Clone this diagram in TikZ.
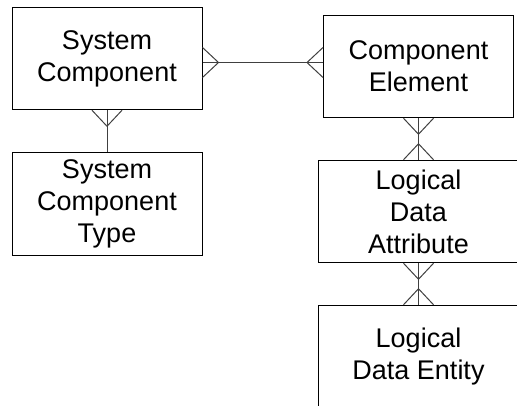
\documentclass[tikz,border=0pt]{standalone}
\usepackage{fontspec}
\setmainfont{Liberation Sans}
\usetikzlibrary{positioning, calc}

\begin{document}
\begin{tikzpicture}[
  x=1pt, y=1pt,
  node distance=41.5pt,
  box/.style = {rectangle, draw, line width=1pt, minimum width=190pt, minimum height=102.5pt, inner sep=0pt,
    font=\fontsize{27}{32}\selectfont, align=center},
  wide/.style = {minimum width=201pt},
  conn/.style = {draw=black!75, line width=1pt},
  crowfoot/.pic = {\draw[conn] (0,-15) -- (16,0) -- (0,15);}
  ]
\clip (0,0) rectangle (517,405);

\node[box] (syscomp) at (107,346.5) {System\\Component};
\node[box, below=42pt of syscomp] (systype) {System\\Component\\Type};
\node[box] (compelem) at (418.5,338.5) {Component\\Element};
\node[box, wide, below=of compelem] (attr) {Logical\\Data\\Attribute};
\node[box, wide, below=of attr] (entity) {Logical\\Data Entity};

\coordinate (mid) at ($(syscomp.east)!0.5!(compelem.west)$);
\draw[conn] (syscomp.east |- mid) -- (compelem.west |- mid);
\draw[conn] (syscomp) -- (systype);
\draw[conn] (compelem) -- (attr);
\draw[conn] (attr) -- (entity);

% crow's feet
\pic at (syscomp.east |- mid) {crowfoot};
\pic[rotate=180] at (compelem.west |- mid) {crowfoot};
\pic[rotate=-90] at (syscomp.south) {crowfoot};
\pic[rotate=-90] at (compelem.south) {crowfoot};
\pic[rotate=90] at (attr.north) {crowfoot};
\pic[rotate=-90] at (attr.south) {crowfoot};
\pic[rotate=90] at (entity.north) {crowfoot};

\end{tikzpicture}
\end{document}
